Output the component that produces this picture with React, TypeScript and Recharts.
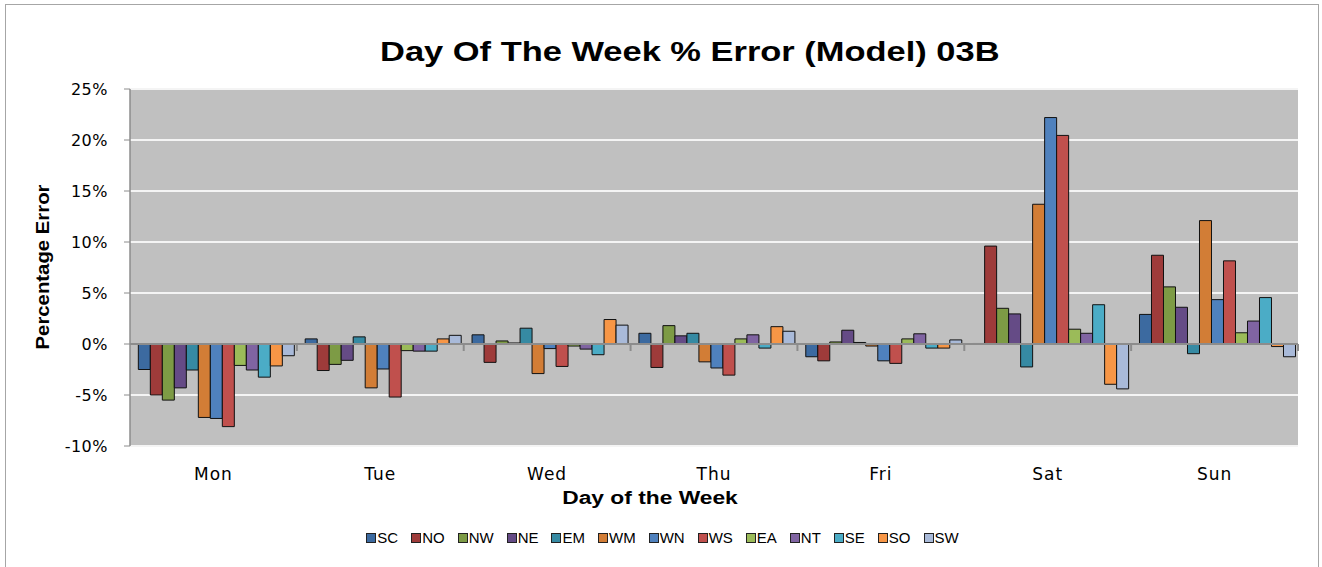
import {
  BarChart,
  Bar,
  XAxis,
  YAxis,
  CartesianGrid,
  ReferenceLine,
  Legend,
} from 'recharts'

const days = ['Mon', 'Tue', 'Wed', 'Thu', 'Fri', 'Sat', 'Sun']
const yTicks = [-10, -5, 0, 5, 10, 15, 20, 25]

// percentage error per region, Mon..Sun
const SC = [-2.5, 0.5, 0.9, 1.05, -1.25, 0.05, 2.9]
const NO = [-5.0, -2.6, -1.8, -2.3, -1.65, 9.6, 8.7]
const NW = [-5.5, -2.0, 0.3, 1.8, 0.2, 3.5, 5.6]
const NE = [-4.3, -1.6, 0.1, 0.8, 1.35, 2.95, 3.6]
const EM = [-2.55, 0.7, 1.55, 1.05, 0.15, -2.25, -0.95]
const WM = [-7.2, -4.3, -2.9, -1.75, -0.2, 13.7, 12.1]
const WN = [-7.3, -2.45, -0.45, -2.35, -1.65, 22.2, 4.35]
const WS = [-8.1, -5.2, -2.2, -3.05, -1.9, 20.45, 8.15]
const EA = [-2.1, -0.65, -0.2, 0.5, 0.5, 1.45, 1.1]
const NT = [-2.55, -0.7, -0.5, 0.9, 1.0, 1.05, 2.25]
const SE = [-3.25, -0.7, -1.05, -0.4, -0.4, 3.85, 4.55]
const SO = [-2.15, 0.5, 2.4, 1.7, -0.4, -3.95, -0.25]
const SW = [-1.15, 0.85, 1.85, 1.25, 0.4, -4.4, -1.25]

const series = [
  { key: 'SC', values: SC, color: '#3c6aa0' },
  { key: 'NO', values: NO, color: '#9e3b3a' },
  { key: 'NW', values: NW, color: '#7d9b45' },
  { key: 'NE', values: NE, color: '#654b86' },
  { key: 'EM', values: EM, color: '#368aa3' },
  { key: 'WM', values: WM, color: '#d27d36' },
  { key: 'WN', values: WN, color: '#4f81bd' },
  { key: 'WS', values: WS, color: '#c0504d' },
  { key: 'EA', values: EA, color: '#9bbb59' },
  { key: 'NT', values: NT, color: '#8064a2' },
  { key: 'SE', values: SE, color: '#4bacc6' },
  { key: 'SO', values: SO, color: '#f79646' },
  { key: 'SW', values: SW, color: '#a9bad9' },
]

const data = days.map((day, i) => {
  const row: Record<string, string | number> = { day }
  series.forEach((s) => (row[s.key] = s.values[i]))
  return row
})

const boldFont = '"Liberation Sans", Arial, sans-serif'
const tickFont = '"DejaVu Sans", Verdana, sans-serif'

// zero line with small category separators hanging below it
function ZeroLine(props: any) {
  const { x1, y1, x2, y2 } = props
  const step = (x2 - x1) / days.length
  return (
    <g>
      <line x1={x1} y1={y1} x2={x2} y2={y2} stroke="#8c8c8c" strokeWidth={2} />
      {days.map((_, i) => (
        <line
          key={i}
          x1={x1 + step * (i + 1)}
          x2={x1 + step * (i + 1)}
          y1={y1}
          y2={y1 + 7}
          stroke="#8c8c8c"
          strokeWidth={2}
        />
      ))}
    </g>
  )
}

function LegendRow() {
  return (
    <div
      style={{
        display: 'flex',
        justifyContent: 'center',
        fontFamily: boldFont,
        fontSize: 15,
        color: '#000',
        paddingLeft: 16,
      }}
    >
      {series.map((s) => (
        <div key={s.key} style={{ display: 'flex', alignItems: 'center', marginRight: 13 }}>
          <span
            style={{
              width: 8,
              height: 8,
              background: s.color,
              border: '1px solid #222',
              marginRight: 1,
              display: 'inline-block',
            }}
          />
          <span>{s.key}</span>
        </div>
      ))}
    </div>
  )
}

export default function App() {
  return (
    <div
      style={{
        position: 'absolute',
        left: 0,
        top: 0,
        width: 1322,
        height: 567,
        overflow: 'hidden',
        background: '#fff',
      }}
    >
      <div
        style={{
          position: 'absolute',
          left: 5,
          top: 4,
          width: 1312,
          height: 600,
          border: '1.5px solid #a6a6a6',
        }}
      />
      <div
        style={{
          position: 'absolute',
          left: 0,
          top: 36,
          width: 1380,
          textAlign: 'center',
          fontFamily: boldFont,
          fontWeight: 'bold',
          fontSize: 28,
          color: '#000',
        }}
      >
        <span style={{ display: 'inline-block', transform: 'scaleX(1.23)' }}>
          Day Of The Week % Error (Model) 03B
        </span>
      </div>
      <div style={{ position: 'absolute', left: 0, top: 0 }}>
        <BarChart
          width={1322}
          height={567}
          data={data}
          margin={{ top: 89, right: 24, bottom: 41, left: 0 }}
          barCategoryGap="5%"
          barGap={0}
        >
          <CartesianGrid
            vertical={false}
            fill="#c0c0c0"
            stroke="#f4f4f4"
            strokeWidth={2}
          />
          <XAxis
            dataKey="day"
            height={80}
            axisLine={false}
            tickLine={false}
            tickMargin={16}
            tick={{ fontFamily: tickFont, fontSize: 17, fill: '#000', letterSpacing: 1 }}
            label={{
              content: ({ viewBox }: any) => (
                <text
                  transform={`translate(${viewBox.x + viewBox.width / 2 - 64} ${viewBox.y + 58}) scale(1.2 1)`}
                  textAnchor="middle"
                  fontFamily={boldFont}
                  fontWeight="bold"
                  fontSize={19}
                  fill="#000"
                >
                  Day of the Week
                </text>
              ),
            }}
          />
          <YAxis
            width={130}
            domain={[-10, 25]}
            ticks={yTicks}
            allowDataOverflow
            tickFormatter={(v) => `${v}%`}
            axisLine={{ stroke: '#8c8c8c', strokeWidth: 1.5 }}
            tickLine={{ stroke: '#8c8c8c' }}
            tickSize={6}
            tickMargin={16}
            tick={{ fontFamily: tickFont, fontSize: 16, fill: '#000', letterSpacing: 0.5 }}
            label={{
              content: () => (
                <text
                  transform="translate(49 267) rotate(-90) scale(1.13 1)"
                  textAnchor="middle"
                  fontFamily={boldFont}
                  fontWeight="bold"
                  fontSize={18}
                  fill="#000"
                >
                  Percentage Error
                </text>
              ),
            }}
          />
          <ReferenceLine y={0} shape={ZeroLine} />
          {series.map((s) => (
            <Bar
              key={s.key}
              dataKey={s.key}
              fill={s.color}
              stroke="#111"
              strokeWidth={1}
              isAnimationActive={false}
            />
          ))}
          <Legend
            layout="horizontal"
            verticalAlign="middle"
            align="center"
            wrapperStyle={{ top: 529, left: 0, width: 1322 }}
            content={() => <LegendRow />}
          />
        </BarChart>
      </div>
    </div>
  )
}
